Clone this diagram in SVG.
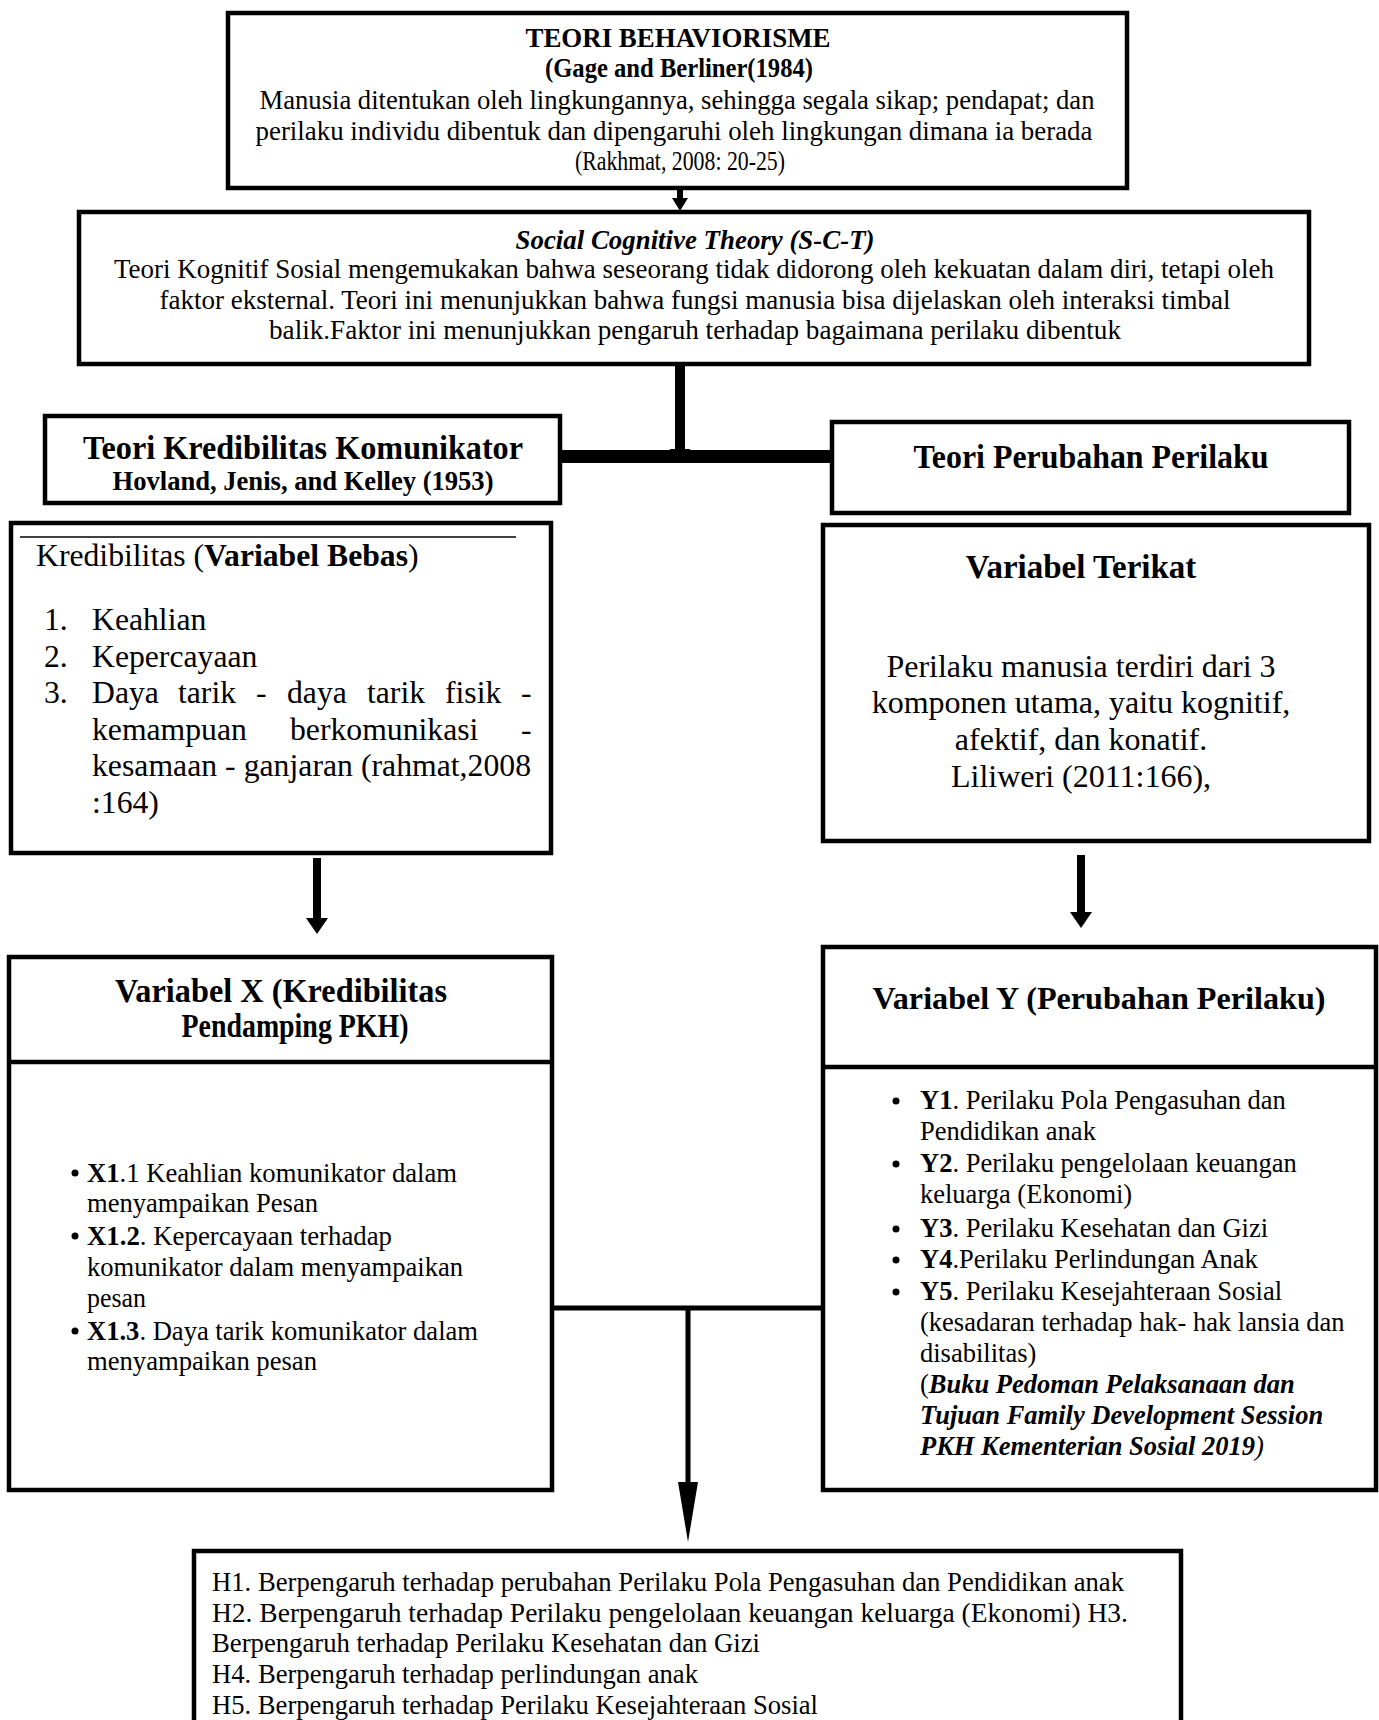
<svg xmlns="http://www.w3.org/2000/svg" width="1379" height="1720" viewBox="0 0 1379 1720">
<style>
  .box{fill:#fff;stroke:#000;stroke-width:4.5}
  text{font-family:"Liberation Serif","Times New Roman",serif;fill:#000}
  .c{text-anchor:middle}
  .b{font-weight:bold}
  .i{font-style:italic}
  .f26{font-size:26px}
  .f27{font-size:27px}
  .f28{font-size:28px}
  .f32{font-size:32px}
  .f33{font-size:33px}
  .fl{font-size:26.5px}
  .ln{stroke:#000;fill:none}
</style>
<rect width="1379" height="1720" fill="#fff"/>

<g id="connectors">
  <line class="ln" x1="680" y1="189" x2="680" y2="200" stroke-width="6"/>
  <polygon points="672,198 688,198 680,211"/>
  <rect x="675" y="365" width="10" height="86"/>
  <polygon points="669,449 691,449 680,455"/>
  <rect x="557" y="450" width="275" height="13"/>
  <rect x="313" y="858" width="8" height="62"/>
  <polygon points="306,918 328,918 317,934"/>
  <rect x="1077" y="855" width="8" height="59"/>
  <polygon points="1070,912 1092,912 1081,928"/>
  <line class="ln" x1="552" y1="1308" x2="823" y2="1308" stroke-width="5"/>
  <line class="ln" x1="688" y1="1308" x2="688" y2="1485" stroke-width="5"/>
  <polygon points="678,1482 698,1482 688,1542"/>
</g>

<g id="node-behaviorisme">
  <rect class="box" x="228" y="13" width="899" height="175"/>
  <text class="c b f27" x="678" y="47" textLength="305" lengthAdjust="spacingAndGlyphs">TEORI BEHAVIORISME</text>
  <text class="c b f27" x="679" y="77" textLength="268" lengthAdjust="spacingAndGlyphs">(Gage and Berliner(1984)</text>
  <text class="c f28" x="677" y="109" textLength="835" lengthAdjust="spacingAndGlyphs">Manusia ditentukan oleh lingkungannya, sehingga segala sikap; pendapat; dan</text>
  <text class="c f28" x="674" y="140" textLength="837" lengthAdjust="spacingAndGlyphs">perilaku individu dibentuk dan dipengaruhi oleh lingkungan dimana ia berada</text>
  <text class="c f28" x="680" y="170" textLength="210" lengthAdjust="spacingAndGlyphs">(Rakhmat, 2008: 20-25)</text>
</g>

<g id="node-sct">
  <rect class="box" x="79" y="212" width="1230" height="152"/>
  <text class="c b i f27" x="695" y="249" textLength="359" lengthAdjust="spacingAndGlyphs">Social Cognitive Theory (S-C-T)</text>
  <text class="c f28" x="694" y="278" textLength="1160" lengthAdjust="spacingAndGlyphs">Teori Kognitif Sosial mengemukakan bahwa seseorang tidak didorong oleh kekuatan dalam diri, tetapi oleh</text>
  <text class="c f28" x="695" y="309" textLength="1071" lengthAdjust="spacingAndGlyphs">faktor eksternal. Teori ini menunjukkan bahwa fungsi manusia bisa dijelaskan oleh interaksi timbal</text>
  <text class="c f28" x="695" y="339" textLength="852" lengthAdjust="spacingAndGlyphs">balik.Faktor ini menunjukkan pengaruh terhadap bagaimana  perilaku dibentuk</text>
</g>

<g id="node-kredibilitas-teori">
  <rect class="box" x="45" y="416" width="515" height="87"/>
  <text class="c b f33" x="303" y="459" textLength="440" lengthAdjust="spacingAndGlyphs">Teori Kredibilitas Komunikator</text>
  <text class="c b f27" x="303" y="490" textLength="381" lengthAdjust="spacingAndGlyphs">Hovland, Jenis, and Kelley (1953)</text>
</g>

<g id="node-perubahan-teori">
  <rect class="box" x="832" y="422" width="517" height="91"/>
  <text class="c b f33" x="1091" y="468" textLength="355" lengthAdjust="spacingAndGlyphs">Teori Perubahan Perilaku</text>
</g>

<g id="node-variabel-bebas">
  <rect class="box" x="11" y="523" width="540" height="330"/>
  <line class="ln" x1="20" y1="537" x2="516" y2="537" stroke-width="1.5"/>
  <g style="font-size:31.7px">
  <text x="36" y="566">Kredibilitas (<tspan class="b">Variabel Bebas</tspan>)</text>
  <text x="44" y="630">1.</text>
  <text x="92" y="630">Keahlian</text>
  <text x="44" y="667">2.</text>
  <text x="92" y="667">Kepercayaan</text>
  <text x="44" y="703">3.</text>
  <text y="703"><tspan x="92">Daya</tspan><tspan x="178">tarik</tspan><tspan x="256">-</tspan><tspan x="287">daya</tspan><tspan x="367">tarik</tspan><tspan x="445">fisik</tspan><tspan x="521">-</tspan></text>
  <text y="740"><tspan x="92">kemampuan</tspan><tspan x="290">berkomunikasi</tspan><tspan x="521">-</tspan></text>
  <text x="92" y="776" textLength="439" lengthAdjust="spacing">kesamaan - ganjaran (rahmat,2008</text>
  <text x="92" y="813">:164)</text>
  </g>
</g>

<g id="node-variabel-terikat">
  <rect class="box" x="823" y="525" width="546" height="316"/>
  <text class="c b f33" x="1081" y="578">Variabel Terikat</text>
  <text class="c f32" x="1081" y="677">Perilaku manusia terdiri dari 3</text>
  <text class="c f32" x="1081" y="713">komponen utama, yaitu kognitif,</text>
  <text class="c f32" x="1081" y="750">afektif, dan konatif.</text>
  <text class="c f32" x="1081" y="787">Liliweri (2011:166),</text>
</g>

<g id="node-variabel-x">
  <rect class="box" x="9" y="957" width="543" height="533"/>
  <line class="ln" x1="9" y1="1062" x2="552" y2="1062" stroke-width="4.5"/>
  <text class="c b f33" x="281" y="1002" textLength="332" lengthAdjust="spacingAndGlyphs">Variabel X (Kredibilitas</text>
  <text class="c b f33" x="295" y="1037" textLength="227" lengthAdjust="spacingAndGlyphs">Pendamping PKH)</text>
  <g class="f27">
    <circle cx="75" cy="1173" r="3.5"/>
    <text x="87" y="1182" textLength="370" lengthAdjust="spacingAndGlyphs"><tspan class="b">X1</tspan>.1 Keahlian komunikator dalam</text>
    <text x="87" y="1212" textLength="231" lengthAdjust="spacingAndGlyphs">menyampaikan Pesan</text>
    <circle cx="75" cy="1236" r="3.5"/>
    <text x="87" y="1245" textLength="305" lengthAdjust="spacingAndGlyphs"><tspan class="b">X1.2</tspan>. Kepercayaan terhadap</text>
    <text x="87" y="1276" textLength="376" lengthAdjust="spacingAndGlyphs">komunikator dalam menyampaikan</text>
    <text x="87" y="1307" textLength="59" lengthAdjust="spacingAndGlyphs">pesan</text>
    <circle cx="75" cy="1331" r="3.5"/>
    <text x="87" y="1340" textLength="391" lengthAdjust="spacingAndGlyphs"><tspan class="b">X1.3</tspan>. Daya tarik komunikator dalam</text>
    <text x="87" y="1370" textLength="230" lengthAdjust="spacingAndGlyphs">menyampaikan pesan</text>
  </g>
</g>

<g id="node-variabel-y">
  <rect class="box" x="823" y="947" width="553" height="543"/>
  <line class="ln" x1="823" y1="1067" x2="1376" y2="1067" stroke-width="4.5"/>
  <text class="c b f32" x="1099" y="1009" textLength="453" lengthAdjust="spacingAndGlyphs">Variabel Y (Perubahan Perilaku)</text>
  <g class="fl">
    <circle cx="896" cy="1101" r="3.5"/>
    <text x="920" y="1109"><tspan class="b">Y1</tspan>. Perilaku Pola Pengasuhan dan</text>
    <text x="920" y="1140">Pendidikan anak</text>
    <circle cx="896" cy="1164" r="3.5"/>
    <text x="920" y="1172"><tspan class="b">Y2</tspan>. Perilaku pengelolaan keuangan</text>
    <text x="920" y="1203">keluarga (Ekonomi)</text>
    <circle cx="896" cy="1229" r="3.5"/>
    <text x="920" y="1237"><tspan class="b">Y3</tspan>. Perilaku Kesehatan dan Gizi</text>
    <circle cx="896" cy="1260" r="3.5"/>
    <text x="920" y="1268"><tspan class="b">Y4</tspan>.Perilaku Perlindungan Anak</text>
    <circle cx="896" cy="1292" r="3.5"/>
    <text x="920" y="1300"><tspan class="b">Y5</tspan>. Perilaku Kesejahteraan Sosial</text>
    <text x="920" y="1331">(kesadaran terhadap hak- hak lansia dan</text>
    <text x="920" y="1362">disabilitas)</text>
    <text x="920" y="1393">(<tspan class="b i">Buku Pedoman Pelaksanaan dan</tspan></text>
    <text class="b i" x="920" y="1424">Tujuan Family Development Session</text>
    <text x="920" y="1455"><tspan class="b i">PKH Kementerian Sosial 2019</tspan><tspan class="i">)</tspan></text>
  </g>
</g>

<g id="node-hipotesis">
  <rect class="box" x="194" y="1551" width="987" height="180"/>
  <g class="f27">
    <text x="212" y="1591" textLength="912" lengthAdjust="spacingAndGlyphs">H1. Berpengaruh terhadap perubahan Perilaku Pola Pengasuhan dan Pendidikan anak</text>
    <text x="212" y="1622" textLength="916" lengthAdjust="spacingAndGlyphs">H2. Berpengaruh terhadap Perilaku pengelolaan keuangan keluarga (Ekonomi) H3.</text>
    <text x="212" y="1652" textLength="548" lengthAdjust="spacingAndGlyphs">Berpengaruh terhadap Perilaku Kesehatan dan Gizi</text>
    <text x="212" y="1683" textLength="486" lengthAdjust="spacingAndGlyphs">H4. Berpengaruh terhadap perlindungan anak</text>
    <text x="212" y="1714" textLength="606" lengthAdjust="spacingAndGlyphs">H5. Berpengaruh terhadap Perilaku Kesejahteraan Sosial</text>
  </g>
</g>
</svg>
